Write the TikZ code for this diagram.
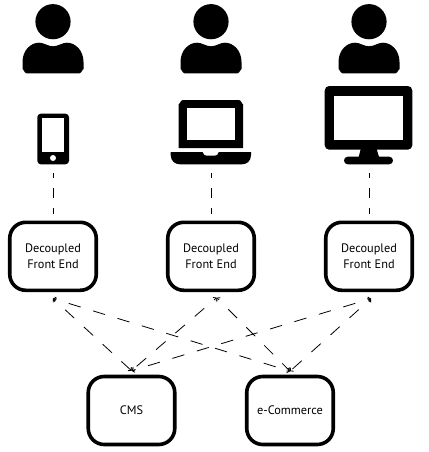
\documentclass[tikz,border=0pt]{standalone}
\usepackage{fontspec}
\setmainfont{PT Sans}
\usetikzlibrary{arrows.meta,calc}
\tikzset{
  box/.style={draw=black,line width=3.6pt,rounded corners=16pt,minimum width=86.5pt,minimum height=68pt,inner sep=0pt,align=center,font=\fontsize{12.3}{15.5}\selectfont,text=black},
  vdash/.style={draw=black,line width=0.9pt,dash pattern=on 10pt off 10pt,dash phase=5pt},
  xdash/.style={draw=black,line width=0.8pt,dash pattern=on 12.5pt off 13pt,dash phase=10pt,{Straight Barb[length=2.2pt,width=5pt]}-{Straight Barb[length=2.2pt,width=5pt]}},
  icon/.style={fill=black,draw=none},
  hole/.style={fill=white,draw=none}
}
\newcommand{\personicon}[1]{%
  \begin{scope}[shift={(#1,0)}]
    \fill[icon] (0,21.7) circle (17.6);
    \fill[icon] (-26.5,73.3) to[out=180,in=90] (-30.5,69.3) -- (-30.5,62)
      .. controls (-30.5,50) and (-22,42.7) .. (-14,42.7)
      .. controls (-9,42.7) and (-5,46.3) .. (0,46.3)
      .. controls (5,46.3) and (9,42.7) .. (14,42.7)
      .. controls (22,42.7) and (30.5,50) .. (30.5,62)
      -- (30.5,69.3) to[out=90,in=0] (26.5,73.3) -- cycle;
  \end{scope}}
\begin{document}
\begin{tikzpicture}[x=1pt,y=-1pt]
\useasboundingbox (0,0) rectangle (428,452);
\personicon{53}
\personicon{211}
\personicon{369}
% phone
\fill[icon,rounded corners=3.5pt] (37.3,113.7) rectangle (69,164.3);
\fill[hole] (42.3,118.3) rectangle (64.3,151.7);
\fill[hole] (53,158) circle (3);
% laptop
\fill[icon] (178.7,148) -- (178.7,104) to[out=-90,in=180] (182.7,100) -- (239,100) to[out=0,in=-90] (243,104) -- (243,148) -- cycle;
\fill[hole] (186.7,108) rectangle (235,140);
\fill[icon] (170.7,152) -- (251,152) -- (251,155) .. controls (251,161) and (247,164.3) .. (242,164.3) -- (180,164.3) .. controls (175,164.3) and (170.7,161) .. (170.7,155) -- cycle;
\fill[hole] (202.7,152) -- (218.7,152) .. controls (218,154.5) and (216.5,155.7) .. (214.5,155.7) -- (207,155.7) .. controls (205,155.7) and (203.4,154.5) .. (202.7,152) -- cycle;
% monitor
\fill[icon,rounded corners=4.5pt] (324.7,86) rectangle (412.3,149.7);
\fill[hole] (334.3,96.3) rectangle (402.7,139.7);
\fill[icon] (360.7,149) -- (376.7,149) -- (379,157) -- (358.7,157) -- cycle;
\fill[icon,rounded corners=3.7pt] (344,156.7) rectangle (393,164.3);
% boxes
\node[box] (f1) at (53,256.3) {Decoupled\\Front End};
\node[box] (f2) at (211,256.3) {Decoupled\\Front End};
\node[box] (f3) at (369,256.3) {Decoupled\\Front End};
\node[box] (cms) at (131.5,410.5) {CMS};
\node[box] (ec) at (290,410.5) {e-Commerce};
% device anchors
\coordinate (d1) at (53,173);
\coordinate (d2) at (211,173);
\coordinate (d3) at (369,173);
\draw[vdash] (d1) -- ($(f1.north)+(0,-7)$);
\draw[vdash] (d2) -- ($(f2.north)+(0,-7)$);
\draw[vdash] (d3) -- ($(f3.north)+(0,-7)$);
% connector ends
\coordinate (u1) at ($(f1.south)+(0,6.5)$);
\coordinate (u2) at ($(f2.south)+(5.7,5.5)$);
\coordinate (u3) at ($(f3.south)+(2,6.5)$);
\coordinate (t1) at ($(cms.north)+(0,-4)$);
\coordinate (t2) at ($(ec.north)+(0,-3.5)$);
\draw[xdash] (u1) -- (t1);
\draw[xdash] (u1) -- (t2);
\draw[xdash] (u2) -- (t1);
\draw[xdash] (u2) -- (t2);
\draw[xdash] (u3) -- (t1);
\draw[xdash] (u3) -- (t2);
\end{tikzpicture}
\end{document}
